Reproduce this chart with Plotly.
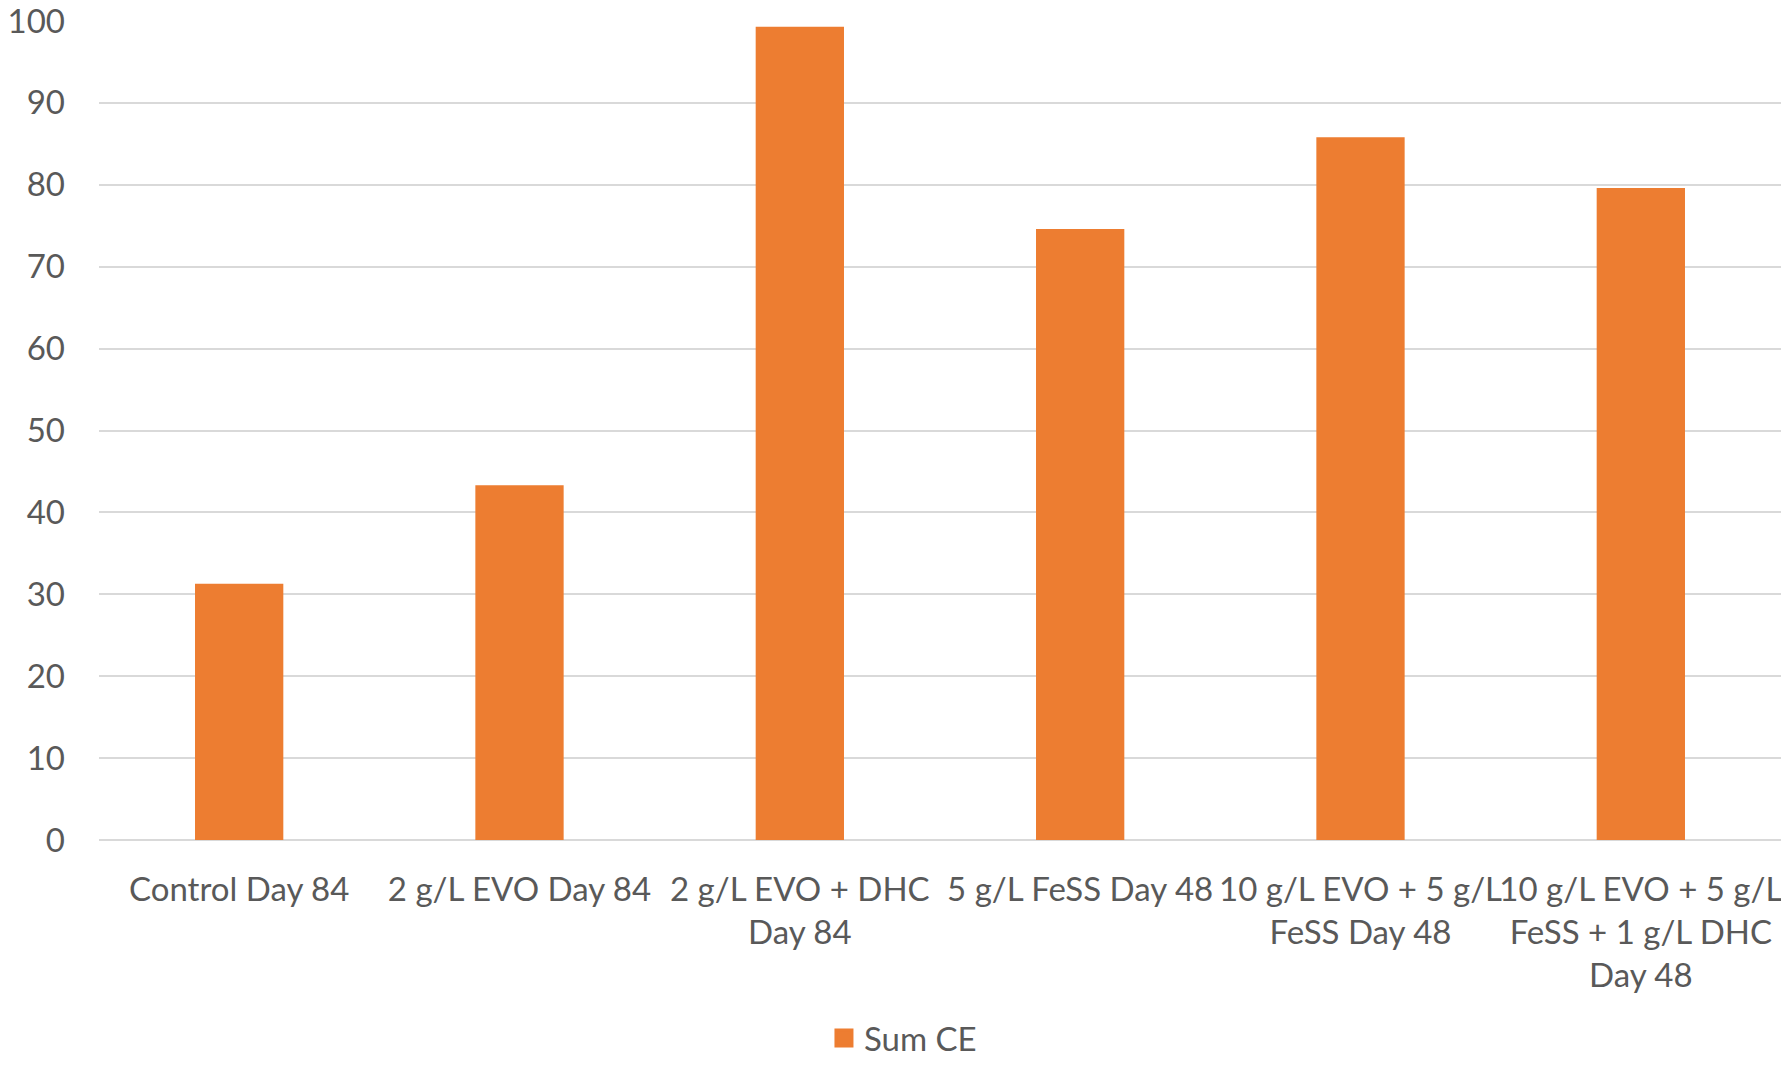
import plotly.graph_objects as go

# Sum CE per treatment
categories = [
    "Control Day 84",
    "2 g/L EVO Day 84",
    "2 g/L EVO + DHC<br>Day 84",
    "5 g/L FeSS Day 48",
    "10 g/L EVO + 5 g/L<br>FeSS Day 48",
    "10 g/L EVO + 5 g/L<br>FeSS + 1 g/L DHC<br>Day 48",
]
sum_ce = [31.3, 43.3, 99.3, 74.6, 85.8, 79.6]
y_ticks = [0, 10, 20, 30, 40, 50, 60, 70, 80, 90, 100]

bar_color = "#ED7D31"
text_color = "#595959"
grid_color = "#D9D9D9"
font_size = 33

fig = go.Figure()
fig.add_trace(
    go.Bar(
        x=list(range(len(categories))),
        y=sum_ce,
        name="Sum CE",
        marker=dict(color=bar_color, line=dict(width=0)),
        width=0.315,
        showlegend=False,
        legendgroup="sum",
    )
)
# Larger square swatch for the legend entry
fig.add_trace(
    go.Scatter(
        x=[None],
        y=[None],
        mode="markers",
        name="Sum CE",
        marker=dict(symbol="square", size=16, color=bar_color,
                    line=dict(color=bar_color, width=3)),
        legendgroup="sum",
        showlegend=True,
    )
)

fig.update_layout(
    width=1781,
    height=1066,
    margin=dict(l=99, r=0, t=21, b=226, autoexpand=False),
    paper_bgcolor="white",
    plot_bgcolor="white",
    font=dict(family="Lato, Open Sans, sans-serif", color=text_color),
    showlegend=True,
    legend=dict(
        orientation="h",
        x=0.507,
        xref="container",
        xanchor="center",
        y=0.0,
        yref="container",
        yanchor="bottom",
        font=dict(size=font_size, color=text_color),
        itemwidth=30,
    ),
)

fig.update_xaxes(
    tickmode="array",
    tickvals=list(range(len(categories))),
    ticktext=categories,
    range=[-0.5, len(categories) - 0.5],
    tickfont=dict(size=font_size, color=text_color),
    showgrid=False,
    showline=False,
    ticks="",
    ticklen=0,
    tickangle=0,
    ticklabelstandoff=27,
    ticklabeloverflow="allow",
    automargin=False,
)
fig.update_yaxes(
    range=[0, 100],
    tickmode="array",
    tickvals=y_ticks,
    tickfont=dict(size=font_size, color=text_color),
    showgrid=True,
    gridcolor=grid_color,
    gridwidth=1.5,
    zeroline=True,
    zerolinecolor=grid_color,
    zerolinewidth=1.5,
    showline=False,
    ticks="",
    ticklabelstandoff=33,
    ticklabeloverflow="allow",
    automargin=False,
)

fig.write_html("out.html")
